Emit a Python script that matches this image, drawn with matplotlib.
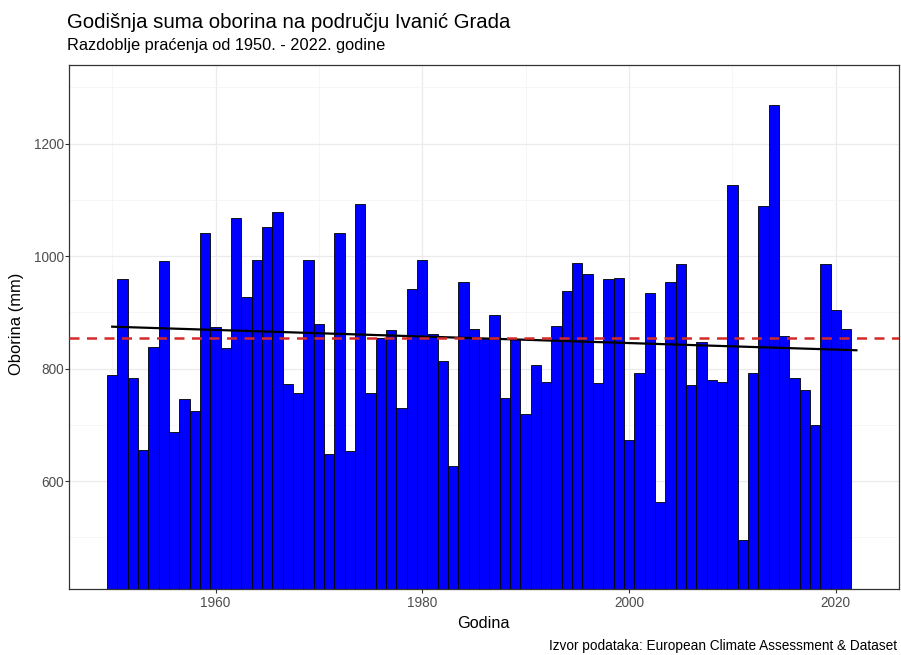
import numpy as np
import matplotlib
matplotlib.use("Agg")
import matplotlib.pyplot as plt

years = list(range(1950, 2023))
# 2022 is a partial-year value that falls below the visible y-range in the reference
precip = [788, 960, 784, 655, 839, 992, 688, 746, 724, 1042,
          874, 836, 1068, 927, 994, 1052, 1078, 772, 756, 994,
          879, 649, 1042, 653, 1092, 756, 854, 869, 730, 941,
          994, 862, 814, 627, 954, 871, 855, 895, 748, 852,
          720, 806, 776, 875, 938, 988, 968, 774, 960, 961,
          673, 792, 935, 562, 954, 986, 770, 847, 780, 776,
          1127, 495, 792, 1089, 1268, 858, 784, 762, 700, 986,
          905, 871, 330]

title = "Godišnja suma oborina na području Ivanić Grada"
subtitle = "Razdoblje praćenja od 1950. - 2022. godine"
xlabel = "Godina"
ylabel = "Oborina (mm)"
caption = "Izvor podataka: European Climate Assessment & Dataset"
x_major = [1960, 1980, 2000, 2020]
x_minor = [1950, 1970, 1990, 2010]
y_major = [600, 800, 1000, 1200]
y_minor = [500, 700, 900, 1100, 1300]

plt.rcParams['font.family'] = ['Liberation Sans', 'DejaVu Sans']

W, H = 901, 655
fig = plt.figure(figsize=(W/100, H/100), dpi=100)
ax = fig.add_axes([69.3/W, 1-589.3/H, (899.3-69.3)/W, (589.3-65)/H])

x = np.array(years)
y = np.array(precip, dtype=float)

ax.bar(x, y, width=1.0, color="#0000FF", edgecolor="black", linewidth=0.6, zorder=2)

coef = np.polyfit(x, y, 1)
tx = np.array([x.min(), x.max()])
ax.plot(tx, np.polyval(coef, tx), color="black", linewidth=1.6, zorder=3)
ax.axhline(y.mean(), color="#D42A2A", linewidth=1.8, linestyle=(0, (4, 3)), zorder=4)

ax.set_xlim(1945.85, 2026.15)
ax.set_ylim(407.5, 1340)
ax.set_xticks(x_major)
ax.set_xticks(x_minor, minor=True)
ax.set_yticks(y_major)
ax.set_yticks(y_minor, minor=True)
ax.grid(which="major", color="#EBEBEB", linewidth=0.9, zorder=0)
ax.grid(which="minor", color="#F3F3F3", linewidth=0.5, zorder=0)
ax.set_axisbelow(True)
for s in ax.spines.values():
    s.set_color("#333333")
    s.set_linewidth(0.9)
ax.tick_params(which="major", length=2.6, color="#333333", labelcolor="#4D4D4D", labelsize=9.8)
ax.tick_params(axis="y", which="major", pad=1.5)
ax.tick_params(axis="x", which="major", pad=2.5)
ax.tick_params(which="minor", length=0)

fig.text(483.5/W, 1-628/H, xlabel, fontsize=11.7, ha="center", va="baseline")
fig.text(17/W, 1-323.7/H, ylabel, fontsize=11.9, ha="center", va="center", rotation=90)

fig.text(67/W, 1-28.3/H, title, fontsize=14.7, ha="left", va="baseline")
fig.text(67/W, 1-50/H, subtitle, fontsize=11.8, ha="left", va="baseline")
fig.text(897/W, 1-650/H, caption, fontsize=9.8, ha="right", va="baseline")

fig.savefig("out.png", dpi=100)
